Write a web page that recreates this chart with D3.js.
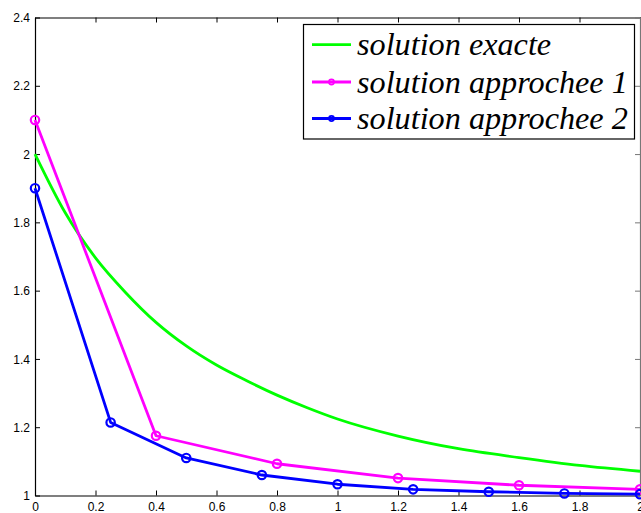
<!DOCTYPE html>
<html><head><meta charset="utf-8">
<script src="https://cdn.jsdelivr.net/npm/d3@7"></script>
<style>
html,body{margin:0;padding:0;background:#fff;overflow:hidden;}
svg{display:block;}
</style></head>
<body>
<svg id="chart" width="641" height="513"></svg>
<script>
// ---- data ----
const exactX = [0, 0.1, 0.2, 0.3, 0.4, 0.5, 0.6, 0.7, 0.8, 0.9, 1.0, 1.2, 1.4, 1.6, 1.8, 2.0];
const exactY = [2.0, 1.828, 1.696, 1.594, 1.507, 1.438, 1.382, 1.336, 1.294, 1.257, 1.224, 1.174, 1.137, 1.111, 1.088, 1.071];
const approx1X = [0, 0.4, 0.8, 1.2, 1.6, 2.0];
const approx1Y = [2.1, 1.175, 1.093, 1.051, 1.030, 1.018];
const approx2X = [0, 0.25, 0.5, 0.75, 1.0, 1.25, 1.5, 1.75, 2.0];
const approx2Y = [1.9, 1.214, 1.110, 1.060, 1.033, 1.018, 1.011, 1.006, 1.004];
const xTicks = [0, 0.2, 0.4, 0.6, 0.8, 1, 1.2, 1.4, 1.6, 1.8, 2];
const yTicks = [1, 1.2, 1.4, 1.6, 1.8, 2, 2.2, 2.4];
const seriesNames = ["solution exacte", "solution approchee 1", "solution approchee 2"];
const seriesColors = ["#00ff00", "#ff00ff", "#0000ff"];

const svg = d3.select("#chart");
const L = 35, R = 640, T = 17.5, B = 495.5;
const x = d3.scaleLinear().domain([0, 2]).range([L, R]);
const y = d3.scaleLinear().domain([1, 2.4]).range([B, T]);

const font = "Helvetica, 'Liberation Sans', Arial, sans-serif";
const tk = 5;

const g = svg.append("g");
const xb = g.append("g").attr("transform", `translate(0,${B})`)
  .call(d3.axisBottom(x).tickValues(xTicks).tickSizeInner(-tk).tickSizeOuter(0).tickPadding(7).tickFormat(d3.format("")));
const xt = g.append("g").attr("transform", `translate(0,${T})`)
  .call(d3.axisTop(x).tickValues(xTicks).tickSizeInner(-tk).tickSizeOuter(0).tickFormat(""));
const yl = g.append("g").attr("transform", `translate(${L},0)`)
  .call(d3.axisLeft(y).tickValues(yTicks).tickSizeInner(-tk).tickSizeOuter(0).tickPadding(5).tickFormat(d3.format("")));
const yr = g.append("g").attr("transform", `translate(${R},0)`)
  .call(d3.axisRight(y).tickValues(yTicks).tickSizeInner(-tk).tickSizeOuter(0).tickFormat(""));

[xb, xt, yl, yr].forEach(a => {
  a.select(".domain").attr("stroke", "#000").attr("stroke-width", 1.2);
  a.selectAll(".tick line").attr("stroke", "#000").attr("stroke-width", 1);
  a.selectAll("text").attr("fill", "#000").style("font-family", font).style("font-size", "12px");
});
yr.select(".domain").attr("stroke", "#777");
yr.selectAll(".tick line").attr("stroke", "#777");
yl.selectAll("text").attr("dy", "0.35em");

const line = d3.line().x(d => x(d[0])).y(d => y(d[1]));
const exact = exactX.map((v, i) => [v, exactY[i]]);
const a1 = approx1X.map((v, i) => [v, approx1Y[i]]);
const a2 = approx2X.map((v, i) => [v, approx2Y[i]]);

const plot = svg.append("g");
plot.append("path").datum(exact).attr("d", line.curve(d3.curveMonotoneX))
  .attr("fill", "none").attr("stroke", seriesColors[0]).attr("stroke-width", 2.8);
line.curve(d3.curveLinear);
[[a1, seriesColors[1]], [a2, seriesColors[2]]].forEach(([data, c]) => {
  plot.append("path").datum(data).attr("d", line)
    .attr("fill", "none").attr("stroke", c).attr("stroke-width", 2.8).attr("stroke-linejoin", "round");
  plot.selectAll(null).data(data).enter().append("circle")
    .attr("cx", d => x(d[0])).attr("cy", d => y(d[1])).attr("r", 4.2)
    .attr("fill", "none").attr("stroke", c).attr("stroke-width", 2.2);
});

// legend
const lg = svg.append("g");
lg.append("rect").attr("x", 303.5).attr("y", 24.5).attr("width", 331).attr("height", 114.5)
  .attr("fill", "#fff").attr("stroke", "#000").attr("stroke-width", 1.2);
const rowsY = [44.7, 82, 118.5];
seriesNames.forEach((name, i) => {
  lg.append("line").attr("x1", 312).attr("x2", 351).attr("y1", rowsY[i]).attr("y2", rowsY[i])
    .attr("stroke", seriesColors[i]).attr("stroke-width", 2.8);
  if (i > 0) lg.append("circle").attr("cx", 331.5).attr("cy", rowsY[i]).attr("r", 2.6)
    .attr("fill", "none").attr("stroke", seriesColors[i]).attr("stroke-width", 1.6);
  lg.append("text").attr("x", 357).attr("y", rowsY[i] + 10.5)
    .attr("font-family", "Liberation Serif").attr("font-style", "italic")
    .attr("font-size", 31).attr("fill", "#000")
    .text(name);
});
const t2 = lg.selectAll("text").nodes()[1];
const w = t2.getComputedTextLength();
const fs = 31 * 271 / w;
lg.selectAll("text").attr("font-size", fs);
</script>
</body></html>
